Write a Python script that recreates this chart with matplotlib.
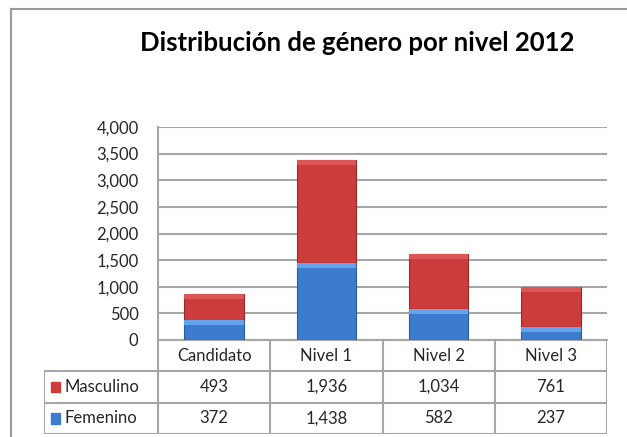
import numpy as np
import matplotlib
matplotlib.use('Agg')
import matplotlib.pyplot as plt
from matplotlib.patches import Rectangle
from matplotlib.lines import Line2D

plt.rcParams['font.family'] = ['Lato', 'DejaVu Sans']

categories = ['Candidato', 'Nivel 1', 'Nivel 2', 'Nivel 3']
masculino = [493, 1936, 1034, 761]
femenino = [372, 1438, 582, 237]
series_names = ['Masculino', 'Femenino']
title = 'Distribución de género por nivel 2012'

W, H = 627, 437
RED = '#cc3c3c'
RED_TOP = '#dc5656'
BLUE = '#3c7cce'
BLUE_TOP = '#64a4ec'
GRID = '#a6a6a6'
TEXT = '#262626'


def fx(px):
    return px / W


def fy(py):
    return 1 - py / H


fig = plt.figure(figsize=(W / 100, H / 100), dpi=100)
fig.patch.set_facecolor('white')

# chart border (right and bottom cut off by the screenshot)
fig.add_artist(Line2D([fx(11), fx(11)], [fy(9), fy(H + 5)], color='#9a9a9a', lw=1.5))
fig.add_artist(Line2D([fx(11), fx(W + 5)], [fy(9), fy(9)], color='#9a9a9a', lw=1.5))

fig.text(fx(357), fy(43), title, ha='center', va='center',
         fontsize=18.5, fontweight='bold', color='black')

# plot area
left, right, top, bottom = 158, 607, 127, 340
ax = fig.add_axes([fx(left), fy(bottom), fx(right - left), (bottom - top) / H])
x = np.arange(len(categories))
fem = np.array(femenino)
mas = np.array(masculino)
band = 5 * 4000 / (bottom - top)  # ~5px highlight strip at top of each segment
ax.bar(x, fem, width=0.53, color=BLUE, edgecolor='#2c5e9e', linewidth=0.8, zorder=3)
ax.bar(x, band, width=0.53, bottom=fem - band, color=BLUE_TOP, linewidth=0, zorder=4)
ax.bar(x, mas, width=0.53, bottom=fem, color=RED, edgecolor='#982a2a',
       linewidth=0.8, zorder=3)
ax.bar(x, band, width=0.53, bottom=fem + mas - band, color=RED_TOP, linewidth=0, zorder=4)
ax.set_xlim(-0.5, len(categories) - 0.5)
ax.set_ylim(0, 4000)
ax.set_yticks(np.arange(0, 4001, 500))
ax.set_yticklabels([f'{v:,}' for v in range(0, 4001, 500)], fontsize=12, color=TEXT)
ax.tick_params(axis='y', length=0, pad=14)
ax.set_xticks([])
ax.yaxis.grid(True, color=GRID, lw=1.5, zorder=0)
for s in ['top', 'right']:
    ax.spines[s].set_visible(False)
ax.spines['left'].set_color(GRID)
ax.spines['left'].set_linewidth(1.5)
ax.spines['bottom'].set_color(GRID)
ax.spines['bottom'].set_linewidth(1.5)

# data table under the plot
t_left, t_bottom = 44, 434
unit = (right - left) / len(categories)
leg_w = (left - t_left) / unit
tax = fig.add_axes([fx(t_left), fy(t_bottom), fx(right - t_left), (t_bottom - bottom) / H])
tax.set_xlim(-0.5 - leg_w, len(categories) - 0.5)
tax.set_ylim(0, 3)
tax.axis('off')
lc = dict(color=GRID, lw=1.5, solid_capstyle='butt')
tax.plot([-0.5 - leg_w, len(categories) - 0.5], [2, 2], **lc)
tax.plot([-0.5 - leg_w, len(categories) - 0.5], [1, 1], **lc)
tax.plot([-0.5 - leg_w, len(categories) - 0.5], [0, 0], **lc)
tax.plot([-0.5 - leg_w, -0.5 - leg_w], [0, 2], **lc)
for b in np.arange(len(categories) + 1) - 0.5:
    tax.plot([b, b], [0, 3], **lc)
for i, c in enumerate(categories):
    tax.text(i, 2.5, c, ha='center', va='center', fontsize=12, color=TEXT)
    tax.text(i, 1.5, f'{masculino[i]:,}', ha='center', va='center', fontsize=12, color=TEXT)
    tax.text(i, 0.5, f'{femenino[i]:,}', ha='center', va='center', fontsize=12, color=TEXT)
for row, name, col in [(1.5, series_names[0], RED), (0.5, series_names[1], BLUE)]:
    sx = -0.5 - leg_w + 0.06
    tax.add_patch(Rectangle((sx, row - 0.17), 0.08, 0.34, color=col))
    tax.text(sx + 0.12, row, name, ha='left', va='center', fontsize=12, color=TEXT)

fig.savefig('out.png', dpi=100, facecolor='white')
